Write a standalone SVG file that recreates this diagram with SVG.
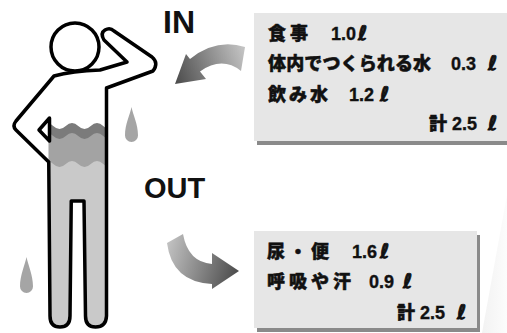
<svg xmlns="http://www.w3.org/2000/svg" width="507" height="333" viewBox="0 0 507 333">
  <defs>
    <style>
      .outline{fill:none;stroke:#000;stroke-width:3.5;stroke-linejoin:round;stroke-linecap:round}
      .drop{fill:#a5a5a5}
      .box{fill:#e6e6e6}
      .shadow{fill:#8a8a8a}
      .head{font-family:"Liberation Sans",Arial,sans-serif;font-weight:bold;fill:#111}
      .jp{font-family:"Noto Sans CJK JP","Noto Sans CJK SC",sans-serif;font-weight:900;font-size:18px;fill:#111;stroke:#111;stroke-width:0.5}
      .num{font-family:"Liberation Sans",Arial,sans-serif;font-weight:bold;font-size:18px;fill:#111;stroke:#111;stroke-width:0.35}
      .lit{font-family:"DejaVu Sans",sans-serif;font-weight:bold;font-style:italic;font-size:20px;fill:#111;stroke:#111;stroke-width:0.9;stroke-linejoin:round}
    </style>
    <linearGradient id="gIn" gradientUnits="userSpaceOnUse" x1="245" y1="55" x2="176" y2="80">
      <stop offset="0" stop-color="#c2c2c2"/>
      <stop offset="1" stop-color="#4e4e4e"/>
    </linearGradient>
    <linearGradient id="gOut" gradientUnits="userSpaceOnUse" x1="167" y1="250" x2="239" y2="271">
      <stop offset="0" stop-color="#c0c0c0"/>
      <stop offset="1" stop-color="#4b4b4b"/>
    </linearGradient>
    <linearGradient id="gBeam" gradientUnits="userSpaceOnUse" x1="482" y1="0" x2="507" y2="0">
      <stop offset="0" stop-color="#f2f2f2"/>
      <stop offset="1" stop-color="#fcfcfc"/>
    </linearGradient>
    <clipPath id="torso">
      <path d="M48.75 110 L106.5 110 L106.5 316 Q106 327 95.5 327 Q85.5 327 85.5 316 L84 201 L71.25 201 L70 316 Q70 327 60 327 Q50 327 50 316 L48.75 162 Z"/>
    </clipPath>
  </defs>

  <!-- faint light wedge at lower right -->
  <polygon points="507,195 482,333 507,333" fill="url(#gBeam)"/>

  <!-- person with water levels -->
  <g id="figure">
    <g clip-path="url(#torso)">
      <path fill="#7b7b7b" d="M15.75 126 q6.25 -6 12.5 0 t12.5 0 t12.5 0 t12.5 0 t12.5 0 t12.5 0 t12.5 0 t12.5 0 V333 H15 Z"/>
      <path fill="#a3a3a3" d="M15.75 136 q6.25 -6 12.5 0 t12.5 0 t12.5 0 t12.5 0 t12.5 0 t12.5 0 t12.5 0 t12.5 0 V333 H15 Z"/>
      <path fill="#c9c9c9" d="M15.75 164 q6.25 -6 12.5 0 t12.5 0 t12.5 0 t12.5 0 t12.5 0 t12.5 0 t12.5 0 t12.5 0 V333 H15 Z"/>
    </g>
    <circle class="outline" cx="75" cy="47" r="24"/>
    <path class="outline" d="M54 76 Q72 71 100 70 L127 62 L104 40 Q100 33 105 30 Q110 27 114 31 L152 57 Q159 63 153 71 L106.5 88 L106.5 316 Q106 327 95.5 327 Q85.5 327 85.5 316 L84 201 L71.25 201 L70 316 Q70 327 60 327 Q50 327 50 316 L48.75 162 L16 130 Q12 126 16 121 Z"/>
    <path class="outline" d="M49.5 118 L39 130 L49.5 141 Z"/>
  </g>

  <g id="drops">
    <path class="drop" d="M131.5 107 C130 115 125 124 125 135.5 A6.5 6.5 0 0 0 138 135.5 C138 124 133 115 131.5 107 Z"/>
    <path class="drop" d="M26.5 257 C25 265 20 275 20 286.5 A6.5 6.5 0 0 0 33 286.5 C33 275 28 265 26.5 257 Z"/>
  </g>

  <g id="in-label">
    <text class="head" x="163" y="33" font-size="32">IN</text>
  </g>
  <g id="out-label">
    <text class="head" x="144" y="198" font-size="29">OUT</text>
  </g>

  <!-- intake box -->
  <g id="in-box">
    <rect class="shadow" x="257" y="17" width="250" height="128"/>
    <rect class="box" x="254" y="13" width="253" height="128"/>
    <text class="jp" x="268" y="40" textLength="40">食事</text>
    <text class="num" x="331" y="40">1.0</text>
    <text class="lit" x="358" y="40">ℓ</text>
    <text class="jp" x="268" y="70" textLength="163">体内でつくられる水</text>
    <text class="num" x="451" y="70">0.3</text>
    <text class="lit" x="488" y="70">ℓ</text>
    <text class="jp" x="268" y="101" textLength="60">飲み水</text>
    <text class="num" x="349" y="101">1.2</text>
    <text class="lit" x="380" y="101">ℓ</text>
    <text class="jp" x="429" y="130">計</text>
    <text class="num" x="452" y="130">2.5</text>
    <text class="lit" x="488" y="130">ℓ</text>
  </g>

  <!-- output box -->
  <g id="out-box">
    <rect class="shadow" x="257" y="235" width="223" height="97"/>
    <rect class="box" x="254" y="231" width="223" height="97"/>
    <text class="jp" x="267" y="258" textLength="62">尿・便</text>
    <text class="num" x="352" y="258">1.6</text>
    <text class="lit" x="380" y="258">ℓ</text>
    <text class="jp" x="267" y="288" textLength="84">呼吸や汗</text>
    <text class="num" x="369" y="288">0.9</text>
    <text class="lit" x="403" y="288">ℓ</text>
    <text class="jp" x="397" y="319">計</text>
    <text class="num" x="420" y="319">2.5</text>
    <text class="lit" x="457" y="319">ℓ</text>
  </g>

  <!-- flow arrows -->
  <g id="connectors">
    <path fill="url(#gIn)" d="M245 47 Q216 38 190 59 L186 54 L175 84 L206 79 L200 71.5 Q222 56 241 71 Z"/>
    <path fill="url(#gOut)" d="M183 234 Q188 262 212 264 L212 253 L239 271 L212 289 L212 284 Q172 282 167 243 Z"/>
  </g>
</svg>
